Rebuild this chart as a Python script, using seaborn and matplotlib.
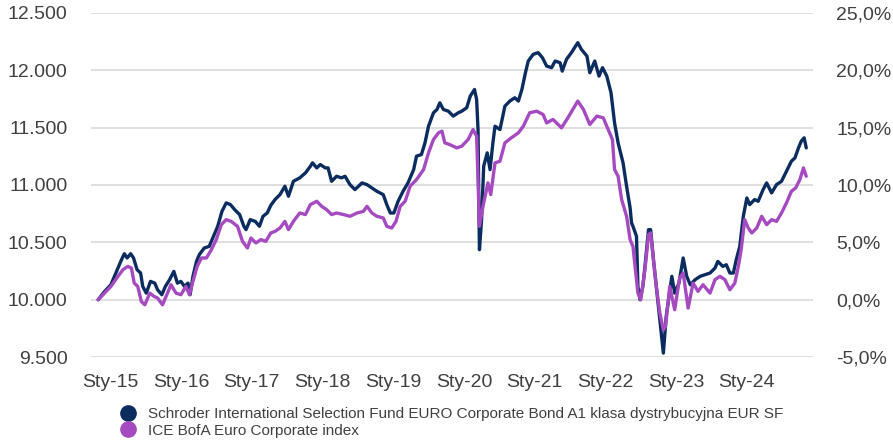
import seaborn as sns
import matplotlib.pyplot as plt
import pandas as pd
from matplotlib.lines import Line2D
from matplotlib.ticker import FuncFormatter


# values (time in decimal years, value of 10 000 invested)
fund_t = [2014.83, 2014.92, 2015.01, 2015.08, 2015.16, 2015.20, 2015.24, 2015.29, 2015.33, 2015.38,
          2015.43, 2015.46, 2015.51, 2015.57, 2015.63, 2015.67, 2015.73, 2015.78, 2015.84, 2015.90,
          2015.95, 2016.00, 2016.05, 2016.10, 2016.13, 2016.17, 2016.22, 2016.26, 2016.33, 2016.40,
          2016.45, 2016.52, 2016.58, 2016.64, 2016.70, 2016.76, 2016.83, 2016.89, 2016.92, 2016.98,
          2017.05, 2017.11, 2017.16, 2017.22, 2017.27, 2017.33, 2017.40, 2017.47, 2017.52, 2017.59,
          2017.68, 2017.76, 2017.83, 2017.86, 2017.92, 2017.97, 2018.04, 2018.08, 2018.13, 2018.20,
          2018.27, 2018.32, 2018.39, 2018.46, 2018.51, 2018.56, 2018.63, 2018.70, 2018.77, 2018.86,
          2018.91, 2018.96, 2019.01, 2019.07, 2019.14, 2019.21, 2019.29, 2019.33, 2019.40, 2019.45,
          2019.50, 2019.57, 2019.62, 2019.66, 2019.71, 2019.78, 2019.85, 2019.92, 2019.97, 2020.04,
          2020.09, 2020.15, 2020.18, 2020.20, 2020.21, 2020.22, 2020.25, 2020.28, 2020.33, 2020.37,
          2020.41, 2020.44, 2020.51, 2020.58, 2020.65, 2020.72, 2020.77, 2020.82, 2020.87, 2020.91,
          2020.98, 2021.05, 2021.11, 2021.17, 2021.24, 2021.29, 2021.36, 2021.39, 2021.45, 2021.52,
          2021.61, 2021.66, 2021.74, 2021.78, 2021.85, 2021.91, 2021.96, 2022.02, 2022.08, 2022.13,
          2022.18, 2022.25, 2022.30, 2022.35, 2022.37, 2022.39, 2022.44, 2022.46, 2022.49, 2022.53,
          2022.56, 2022.61, 2022.64, 2022.68, 2022.71, 2022.76, 2022.79, 2022.82, 2022.86, 2022.94,
          2022.98, 2023.04, 2023.10, 2023.15, 2023.20, 2023.27, 2023.34, 2023.41, 2023.48, 2023.55,
          2023.59, 2023.66, 2023.71, 2023.76, 2023.81, 2023.85, 2023.90, 2023.95, 2024.00, 2024.04,
          2024.11, 2024.16, 2024.23, 2024.28, 2024.35, 2024.42, 2024.49, 2024.56, 2024.63, 2024.68,
          2024.73, 2024.77, 2024.81, 2024.84]
fund_v = [10000, 10072, 10131, 10233, 10349, 10401, 10364, 10401, 10364, 10262,
          10233, 10116, 10058, 10160, 10145, 10087, 10044, 10116, 10175, 10247,
          10145, 10160, 10116, 10145, 10044, 10204, 10334, 10393, 10451, 10465,
          10538, 10640, 10770, 10844, 10829, 10785, 10742, 10640, 10611, 10698,
          10683, 10640, 10727, 10756, 10822, 10873, 10916, 10989, 10902, 11032,
          11062, 11105, 11163, 11193, 11149, 11178, 11149, 11149, 11032, 11076,
          11062, 11076, 11003, 10960, 10989, 11018, 11003, 10974, 10945, 10916,
          10829, 10756, 10756, 10858, 10945, 11018, 11134, 11251, 11265, 11367,
          11512, 11629, 11658, 11716, 11658, 11643, 11600, 11629, 11643, 11673,
          11774, 11832, 11745, 11483, 10902, 10436, 10698, 11163, 11280, 11134,
          11367, 11512, 11483, 11687, 11731, 11760, 11731, 11832, 11978, 12080,
          12138, 12153, 12109, 12036, 12022, 12080, 12065, 11992, 12094, 12153,
          12240, 12182, 12123, 11978, 12080, 11949, 12022, 11949, 11803, 11541,
          11367, 11193, 10989, 10800, 10669, 10640, 10553, 10116, 10000, 10116,
          10291, 10611, 10611, 10349, 10175, 9884, 9709, 9535, 9855, 10204,
          10058, 10145, 10364, 10204, 10131, 10175, 10204, 10218, 10233, 10276,
          10334, 10291, 10305, 10233, 10233, 10349, 10465, 10727, 10887, 10829,
          10873, 10858, 10960, 11018, 10931, 11003, 11032, 11120, 11207, 11236,
          11323, 11382, 11411, 11323]

index_t = [2014.83, 2015.01, 2015.11, 2015.18, 2015.25, 2015.30, 2015.34, 2015.39, 2015.44, 2015.49,
           2015.56, 2015.62, 2015.67, 2015.74, 2015.81, 2015.86, 2015.93, 2016.00, 2016.07, 2016.12,
           2016.17, 2016.23, 2016.29, 2016.36, 2016.43, 2016.50, 2016.57, 2016.64, 2016.71, 2016.80,
           2016.87, 2016.94, 2016.99, 2017.06, 2017.13, 2017.20, 2017.27, 2017.33, 2017.40, 2017.47,
           2017.52, 2017.59, 2017.68, 2017.76, 2017.83, 2017.92, 2017.99, 2018.06, 2018.13, 2018.20,
           2018.30, 2018.39, 2018.49, 2018.58, 2018.63, 2018.70, 2018.77, 2018.86, 2018.91, 2018.98,
           2019.04, 2019.10, 2019.17, 2019.24, 2019.33, 2019.43, 2019.50, 2019.57, 2019.64, 2019.69,
           2019.73, 2019.80, 2019.90, 2019.97, 2020.06, 2020.13, 2020.18, 2020.20, 2020.22, 2020.27,
           2020.34, 2020.38, 2020.44, 2020.51, 2020.58, 2020.67, 2020.77, 2020.84, 2020.93, 2021.03,
           2021.12, 2021.17, 2021.26, 2021.38, 2021.47, 2021.61, 2021.69, 2021.78, 2021.88, 2021.97,
           2022.04, 2022.10, 2022.13, 2022.18, 2022.23, 2022.30, 2022.35, 2022.39, 2022.46, 2022.50,
           2022.56, 2022.61, 2022.64, 2022.69, 2022.72, 2022.77, 2022.82, 2022.85, 2022.91, 2022.98,
           2023.05, 2023.10, 2023.17, 2023.24, 2023.31, 2023.38, 2023.48, 2023.55, 2023.62, 2023.69,
           2023.76, 2023.83, 2023.88, 2023.92, 2023.97, 2024.02, 2024.07, 2024.14, 2024.21, 2024.28,
           2024.35, 2024.42, 2024.49, 2024.56, 2024.63, 2024.69, 2024.75, 2024.80, 2024.84]
index_v = [10000, 10116, 10204, 10262, 10291, 10276, 10145, 10116, 9985, 9956,
           10058, 10029, 10015, 9956, 10058, 10131, 10058, 10044, 10116, 10044,
           10160, 10291, 10364, 10364, 10436, 10524, 10654, 10698, 10683, 10640,
           10509, 10451, 10538, 10495, 10524, 10509, 10582, 10596, 10625, 10683,
           10611, 10683, 10756, 10742, 10829, 10858, 10814, 10785, 10742, 10756,
           10742, 10727, 10756, 10770, 10814, 10756, 10727, 10713, 10640, 10625,
           10683, 10814, 10858, 10989, 11047, 11134, 11280, 11396, 11454, 11469,
           11367, 11352, 11323, 11338, 11396, 11483, 11425, 11047, 10640, 10814,
           11018, 10916, 11193, 11207, 11367, 11411, 11454, 11512, 11629, 11643,
           11614, 11541, 11571, 11498, 11585, 11731, 11658, 11527, 11600, 11585,
           11483, 11396, 11134, 11076, 10873, 10727, 10524, 10465, 10058, 10000,
           10262, 10567, 10582, 10291, 10116, 9884, 9738, 9767, 10116, 9913,
           10189, 10233, 9927, 10145, 10073, 10131, 10058, 10175, 10204, 10175,
           10087, 10145, 10291, 10436, 10698, 10625, 10582, 10625, 10727, 10654,
           10698, 10683, 10756, 10844, 10945, 10974, 11047, 11149, 11076]

years = list(range(2015, 2025))
year_labels = ["Sty-" + str(y)[2:] for y in years]
left_ticks = [9500, 10000, 10500, 11000, 11500, 12000, 12500]
right_ticks = [-5, 0, 5, 10, 15, 20, 25]

fund_name = "Schroder International Selection Fund EURO Corporate Bond A1 klasa dystrybucyjna EUR SF"
index_name = "ICE BofA Euro Corporate index"
navy = "#0B2C5F"
purple = "#A54AC0"
txt = "#404040"

fund_df = pd.DataFrame({"t": fund_t, "v": fund_v})
index_df = pd.DataFrame({"t": index_t, "v": index_v})

sns.set_theme(style="white")
plt.rcParams["font.family"] = ["Liberation Sans", "DejaVu Sans"]

fig = plt.figure(figsize=(8.93, 4.42), dpi=100)
ax = fig.add_axes([0.102, 0.192, 0.808, 0.779])

sns.lineplot(data=fund_df, x="t", y="v", ax=ax, color=navy, linewidth=2.4, estimator=None, zorder=3)
sns.lineplot(data=index_df, x="t", y="v", ax=ax, color=purple, linewidth=2.4, estimator=None, zorder=4)

ax.set_xlim(2014.73, 2024.93)
ax.set_ylim(9500, 12500)
ax.set_yticks(left_ticks)
ax.yaxis.set_major_formatter(FuncFormatter(lambda v, p: f"{int(v):,}".replace(",", ".")))
ax.set_xticks(years)
ax.set_xticklabels(year_labels)
ax.set_xlabel("")
ax.set_ylabel("")
ax.grid(axis="y", color="#dcdcdc", linewidth=1.3)
ax.set_axisbelow(True)
for s in ax.spines.values():
    s.set_visible(False)
ax.tick_params(axis="both", length=0, labelsize=14, colors=txt)
ax.tick_params(axis="y", pad=17)
ax.tick_params(axis="x", pad=12)

# right axis in percent
ax2 = ax.twinx()
ax2.set_ylim(-5, 25)
ax2.set_yticks(right_ticks)
ax2.yaxis.set_major_formatter(FuncFormatter(lambda v, p: f"{v:.1f}%".replace(".", ",")))
for s in ax2.spines.values():
    s.set_visible(False)
ax2.tick_params(axis="y", length=0, labelsize=14, colors=txt, pad=17)
ax2.grid(False)

handles = [Line2D([], [], marker="o", linestyle="", markersize=11, color=navy),
           Line2D([], [], marker="o", linestyle="", markersize=11, color=purple)]
leg = fig.legend(handles, [fund_name, index_name], loc="center left",
                 bbox_to_anchor=(0.135, 0.044), frameon=False, fontsize=11,
                 handlelength=1, handletextpad=0.8, labelspacing=0.15,
                 borderpad=0, borderaxespad=0)
for t in leg.get_texts():
    t.set_color(txt)

plt.savefig("out.png", dpi=100)
